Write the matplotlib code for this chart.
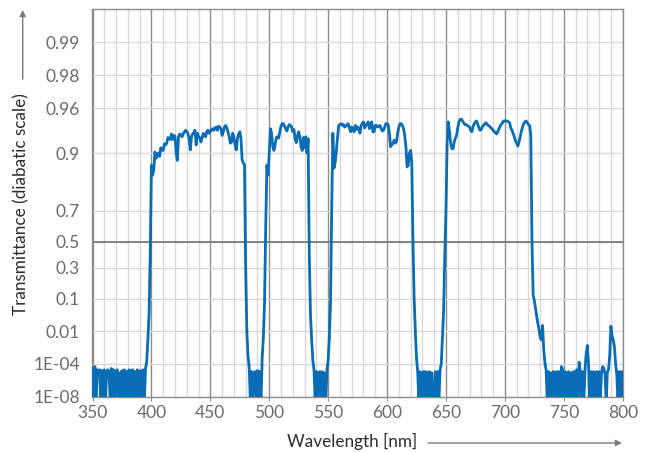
import numpy as np
import matplotlib
matplotlib.use("Agg")
import matplotlib.pyplot as plt
from matplotlib.ticker import FixedLocator, FixedFormatter, MultipleLocator

# ---------------- data (transmittance, 1 nm steps) ----------------
block_uv_start = 350
block_uv = [4e-5, 1e-9, 6e-5, 1e-9, 3e-5, 2e-5, 3e-5, 1e-9, 2.5e-5, 1e-9,
            3e-5, 1e-9, 2e-5, 3e-5, 2e-5, 1e-9, 4e-5, 1e-9, 3e-5, 1e-9,
            2e-5, 3e-5, 1e-9, 1.5e-5, 1e-9, 2.5e-5, 1e-9, 3e-5, 1e-9, 2e-5,
            1e-9, 3e-5, 1e-9, 2.5e-5, 3e-5, 1e-9, 2e-5, 1e-9, 3e-5, 2e-5,
            1e-9, 2.5e-5, 1e-9, 3e-5, 1e-9, 4e-5]

pass_blue_start = 396
pass_blue = [1.5e-4, 0.004, 0.04, 0.4,
             0.872, 0.845, 0.860, 0.902, 0.889, 0.895, 0.900, 0.893, 0.910, 0.906,
             0.905, 0.917, 0.915, 0.918, 0.927, 0.925, 0.924, 0.932, 0.924, 0.930,
             0.929, 0.900, 0.884, 0.928, 0.932, 0.931, 0.928, 0.932, 0.935, 0.937,
             0.935, 0.933, 0.925, 0.906, 0.928, 0.932, 0.934, 0.937, 0.915, 0.933,
             0.928, 0.927, 0.920, 0.926, 0.933, 0.930, 0.928, 0.935, 0.937, 0.933,
             0.935, 0.938, 0.939, 0.937, 0.940, 0.941, 0.937, 0.942, 0.941, 0.939,
             0.930, 0.935, 0.941, 0.943, 0.940, 0.935, 0.928, 0.918, 0.920, 0.933,
             0.928, 0.915, 0.906, 0.925, 0.932, 0.935, 0.926, 0.885, 0.878, 0.874,
             0.3, 0.01, 4e-4]

block_2_start = 483
block_2 = [5e-5, 1e-9, 2e-5, 1e-9, 1.5e-5, 2e-5, 1e-9, 2.5e-5, 1e-9, 2e-5, 1e-9]

pass_green_start = 494
pass_green = [3e-4, 0.005, 0.08, 0.6, 0.872, 0.845,
              0.900, 0.939, 0.933, 0.912, 0.905, 0.915, 0.927, 0.928, 0.926, 0.935,
              0.942, 0.945, 0.945, 0.942, 0.939, 0.936, 0.941, 0.944, 0.943, 0.941,
              0.935, 0.938, 0.925, 0.919, 0.930, 0.935, 0.928, 0.912, 0.905, 0.927,
              0.910, 0.928, 0.900, 0.925, 0.4, 0.04, 0.004]

block_3_start = 537
block_3 = [2e-4, 3e-5, 1e-9, 2e-5, 1e-9, 1.5e-5, 2e-5, 1e-9, 2e-5, 1e-9,
           1.5e-5, 1e-9, 3e-5, 2e-4]

pass_yellow_start = 551
pass_yellow = [0.005, 0.08, 0.7, 0.933, 0.865, 0.880, 0.905, 0.928, 0.943,
               0.944, 0.945, 0.943, 0.944, 0.941, 0.942, 0.944, 0.945, 0.940, 0.935,
               0.941, 0.939, 0.935, 0.943, 0.938, 0.941, 0.939, 0.933, 0.943, 0.945,
               0.947, 0.940, 0.943, 0.945, 0.947, 0.939, 0.941, 0.947, 0.935, 0.935,
               0.943, 0.943, 0.941, 0.942, 0.943, 0.939, 0.936, 0.937, 0.941, 0.945,
               0.945, 0.944, 0.933, 0.912, 0.915, 0.918, 0.923, 0.918, 0.920, 0.933,
               0.941, 0.945, 0.945, 0.943, 0.939, 0.930, 0.912, 0.868, 0.872, 0.900,
               0.905, 0.880, 0.5, 0.1, 0.01, 3e-4]

block_4_start = 626
block_4 = [2e-5, 1e-9, 2e-5, 1e-9, 1.5e-5, 2e-5, 1e-9, 2e-5, 1e-9, 1.5e-5,
           2e-5, 1e-9, 1.5e-5, 1e-9, 1e-9, 2e-5, 1e-9, 2e-5, 1e-9, 3e-5, 1e-4]

pass_red_start = 647
pass_red = [0.006, 0.05, 0.4,
            0.700, 0.920, 0.947, 0.935, 0.918, 0.909, 0.908, 0.920, 0.926, 0.930,
            0.940, 0.947, 0.9495, 0.950, 0.948, 0.946, 0.944, 0.944, 0.943, 0.942,
            0.941, 0.937, 0.935, 0.942, 0.945, 0.947, 0.948, 0.944, 0.940, 0.937,
            0.938, 0.942, 0.943, 0.945, 0.946, 0.944, 0.943, 0.942, 0.940, 0.939,
            0.937, 0.935, 0.934, 0.932, 0.935, 0.939, 0.942, 0.944, 0.946, 0.948,
            0.948, 0.948, 0.948, 0.947, 0.946, 0.940, 0.937, 0.933, 0.928, 0.922,
            0.918, 0.913, 0.920, 0.928, 0.936, 0.941, 0.945, 0.947, 0.948, 0.946,
            0.944, 0.943, 0.930, 0.5, 0.12, 0.09, 0.06, 0.035, 0.02, 0.012,
            0.005, 0.004, 0.017, 0.001, 1.2e-4]

block_ir_start = 735
block_ir = [3e-5, 1e-9, 2e-5, 1e-9, 1.5e-5, 1e-9, 2e-5, 1.5e-5, 1e-9, 2e-5,
            1e-9, 2e-5, 1e-9, 6e-5, 3e-5, 1e-9, 2e-5, 1e-9, 1.5e-5, 2e-5,
            1e-9, 1.5e-5, 1e-9, 2e-5, 1e-9, 2e-5, 3e-5, 1e-9, 1.4e-4, 2e-5,
            1e-9, 2e-5, 1e-9, 3e-5, 6e-4, 2e-3, 1e-4, 1e-9, 2e-5, 1e-9,
            2e-5, 1.5e-5, 1e-9, 2e-5, 1e-9, 2e-5, 1e-9, 1.5e-5, 6e-5, 4e-5,
            1e-5, 1e-9, 2e-5, 3e-5, 5e-4, 0.016, 0.006, 0.004, 1.6e-3, 1e-4,
            1e-5, 1e-9, 2e-5, 1e-9, 2e-5, 1e-9]

y_tick_values = [1e-8, 1e-4, 0.01, 0.1, 0.3, 0.5, 0.7, 0.9, 0.96, 0.98, 0.99]
y_tick_labels = ["1E-08", "1E-04", "0.01", "0.1", "0.3", "0.5", "0.7", "0.9",
                 "0.96", "0.98", "0.99"]
x_tick_values = [350, 400, 450, 500, 550, 600, 650, 700, 750, 800]

segments = [(block_uv_start, block_uv), (pass_blue_start, pass_blue),
            (block_2_start, block_2), (pass_green_start, pass_green),
            (block_3_start, block_3), (pass_yellow_start, pass_yellow),
            (block_4_start, block_4), (pass_red_start, pass_red),
            (block_ir_start, block_ir)]

wl_parts, t_parts = [], []
for start, vals in segments:
    wl_parts.append(np.arange(start, start + len(vals)))
    t_parts.append(np.array(vals, float))
wavelength = np.concatenate(wl_parts)
transmittance = np.concatenate(t_parts)


# ---------------- diabatic scale ----------------
def diabatic_fwd(t):
    t = np.clip(np.asarray(t, float), 1e-300, 1 - 1e-15)
    with np.errstate(all="ignore"):
        return -np.log10(-np.log10(t))


def diabatic_inv(f):
    with np.errstate(all="ignore"):
        return 10.0 ** (-(10.0 ** (-np.asarray(f, float))))


FONT = "Lato"
plt.rcParams["font.family"] = [FONT, "DejaVu Sans"]

W, H = 646, 453
fig = plt.figure(figsize=(W / 100, H / 100), dpi=100)
L, R, T, B = 92.5, 622.7, 9.3, 396.7
ax = fig.add_axes([L / W, 1 - B / H, (R - L) / W, (B - T) / H])

ax.set_yscale("function", functions=(diabatic_fwd, diabatic_inv))
ax.set_xlim(350, 800)
ax.set_ylim(1e-8, 0.995)

light = "#d9d9d9"
dark = "#8c8c8c"

ax.xaxis.set_major_locator(FixedLocator(x_tick_values))
ax.xaxis.set_minor_locator(MultipleLocator(10))
ax.yaxis.set_major_locator(FixedLocator(y_tick_values))
ax.yaxis.set_major_formatter(FixedFormatter(y_tick_labels))
ax.yaxis.set_minor_locator(FixedLocator([]))
ax.grid(which="minor", axis="x", color=light, lw=1.0)
ax.grid(which="major", axis="x", color=dark, lw=1.0)
ax.grid(which="major", axis="y", color=light, lw=1.0)
ax.axhline(0.5, color="#7a7a7a", lw=1.3, zorder=1.5)
ax.set_axisbelow(True)

for s in ax.spines.values():
    s.set_color(dark)
    s.set_linewidth(1.0)

TICK_FS = 12.5
LABEL_FS = 12.3
ax.tick_params(axis="x", which="major", length=3, color=dark, pad=3,
               labelsize=TICK_FS, labelcolor="#6b6b6b")
ax.tick_params(axis="x", which="minor", length=0)
ax.tick_params(axis="y", which="major", length=0, pad=9,
               labelsize=TICK_FS, labelcolor="#6b6b6b")

ax.plot(wavelength, transmittance, color="#0a6cb4", lw=2.0, zorder=3,
        solid_joinstyle="round")

fig.text(352 / W, 1 - 441 / H, "Wavelength [nm]", ha="center", va="center",
         fontsize=LABEL_FS, color="#2b2b2b")
fig.text(21 / W, 1 - 204 / H, "Transmittance (diabatic scale)", ha="center",
         va="center", rotation=90, fontsize=LABEL_FS, color="#2b2b2b")
arrow_kw = dict(arrowstyle="-|>", color="#7a7a7a", lw=1.0, mutation_scale=9,
                shrinkA=0, shrinkB=0)
ax.annotate("", xy=(622 / W, 1 - 443 / H), xytext=(428 / W, 1 - 443 / H),
            xycoords="figure fraction", textcoords="figure fraction",
            arrowprops=arrow_kw, annotation_clip=False)
ax.annotate("", xy=(22.7 / W, 1 - 10 / H), xytext=(22.7 / W, 1 - 79 / H),
            xycoords="figure fraction", textcoords="figure fraction",
            arrowprops=arrow_kw, annotation_clip=False)

fig.savefig("out.png", dpi=100)
